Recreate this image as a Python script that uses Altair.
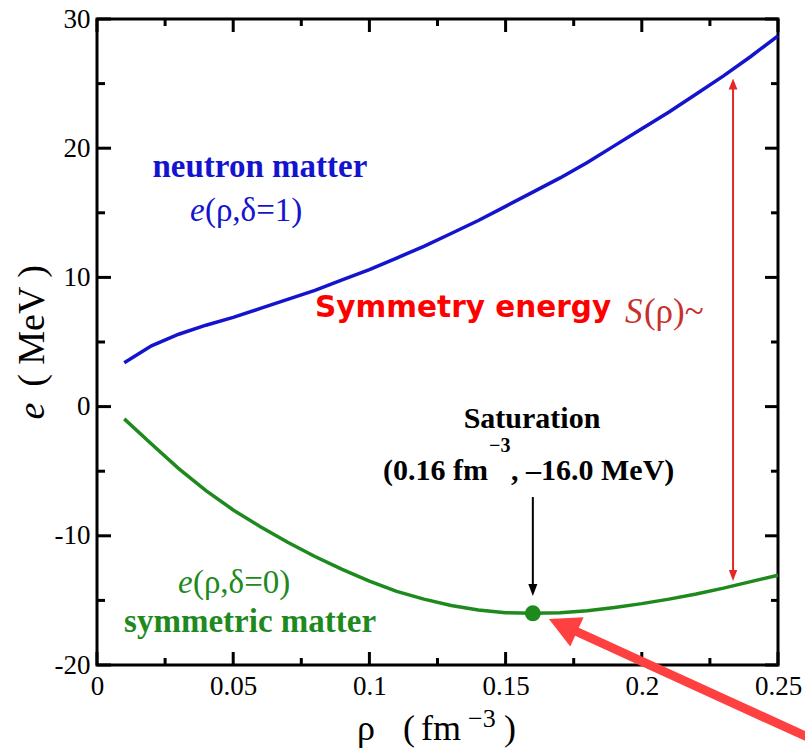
import altair as alt
import pandas as pd

# ---------------- data ----------------
rho = [0.01, 0.02, 0.03, 0.04, 0.05, 0.06, 0.07, 0.08, 0.09, 0.10,
       0.11, 0.12, 0.13, 0.14, 0.15, 0.16, 0.17, 0.18, 0.19, 0.20,
       0.21, 0.22, 0.23, 0.24, 0.25]
e_neutron = [3.4, 4.7, 5.6, 6.3, 6.9, 7.6, 8.3, 9.0, 9.8, 10.6,
             11.5, 12.4, 13.4, 14.4, 15.5, 16.6, 17.7, 18.9, 20.2, 21.5,
             22.8, 24.2, 25.6, 27.1, 28.7]
e_symmetric = [-0.95, -2.9, -4.8, -6.5, -8.0, -9.3, -10.5, -11.6, -12.6, -13.5,
               -14.3, -14.9, -15.4, -15.75, -15.95, -16.0, -15.95, -15.8, -15.55, -15.25,
               -14.9, -14.5, -14.05, -13.55, -13.05]

x_major = [0, 0.05, 0.1, 0.15, 0.2, 0.25]
x_minor = [0.025, 0.075, 0.125, 0.175, 0.225]
y_major = [-20, -10, 0, 10, 20, 30]
y_minor = [-15, -5, 5, 15, 25]

saturation = [0.16, -16.0]
sym_arrow_x = [0.2335]
sym_arrow_y = [-13.5, 25.4]

# ---------------- style ----------------
W, H = 681, 646
SERIF = "Liberation Serif"
SANS = "DejaVu Sans"
BLUE = "#1414cf"
GREEN = "#1e8a1e"
RED = "#ff0000"
DARKRED = "#c8302c"
ARROWRED = "#e42828"
BIGRED = "#fe4040"

xs = alt.Scale(domain=[0, 0.25], nice=False, zero=False)
ys = alt.Scale(domain=[-20, 30], nice=False, zero=False)

x_axis = alt.Axis(title=None, values=x_major, labelExpr="'' + datum.value",
                  ticks=False, domain=False, grid=False, labelFont=SERIF,
                  labelFontSize=27, labelColor="black", labelPadding=8,
                  labelFlush=False, labelOverlap=False)
y_axis = alt.Axis(title=None, values=y_major,
                  labelExpr="datum.value < 0 ? '-' + (-datum.value) : '' + datum.value",
                  ticks=False, domain=False, grid=False, labelFont=SERIF,
                  labelFontSize=27, labelColor="black", labelPadding=7,
                  labelOverlap=False)


def X(field):
    return alt.X(field, scale=xs, axis=x_axis)


def Y(field):
    return alt.Y(field, scale=ys, axis=y_axis)


curves = pd.DataFrame({"rho": rho, "pnm": e_neutron, "snm": e_symmetric})

blue_line = alt.Chart(curves).mark_line(color=BLUE, strokeWidth=3.5).encode(
    x=X("rho:Q"), y=Y("pnm:Q"))
green_line = alt.Chart(curves).mark_line(color=GREEN, strokeWidth=3.5).encode(
    x=X("rho:Q"), y=Y("snm:Q"))


def xticks(vals, y0, y1):
    return alt.Chart(pd.DataFrame({"t": vals})).mark_rule(color="black", strokeWidth=3).encode(
        x=X("t:Q"), y=alt.value(y0), y2=alt.value(y1))


def yticks(vals, x0, x1):
    return alt.Chart(pd.DataFrame({"t": vals})).mark_rule(color="black", strokeWidth=3).encode(
        y=Y("t:Q"), x=alt.value(x0), x2=alt.value(x1))


ticks = [xticks(x_major, H - 13, H), xticks(x_major, 0, 13),
         xticks(x_minor, H - 7, H), xticks(x_minor, 0, 7),
         yticks(y_major, 0, 14), yticks(y_major, W - 13, W),
         yticks(y_minor, 0, 8), yticks(y_minor, W - 7, W)]


def seg(x1, y1, x2, y2, color, width):
    df = pd.DataFrame({"x": [x1], "y": [y1], "x2": [x2], "y2": [y2]})
    return alt.Chart(df).mark_rule(color=color, strokeWidth=width, clip=False).encode(
        x=X("x:Q"), y=Y("y:Q"), x2="x2:Q", y2="y2:Q")


def head(x, y, path, size, color, angle=0):
    df = pd.DataFrame({"x": [x], "y": [y]})
    return alt.Chart(df).mark_point(shape=path, size=size, filled=True, color=color,
                                    opacity=1, angle=angle, strokeWidth=0, clip=False).encode(
        x=X("x:Q"), y=Y("y:Q"))


def label(text, x, y, **kw):
    df = pd.DataFrame({"x": [x], "y": [y], "t": [text]})
    return alt.Chart(df).mark_text(**kw).encode(x=X("x:Q"), y=Y("y:Q"), text="t:N")


def plabel(text, px, py, **kw):
    df = pd.DataFrame({"t": [text]})
    return alt.Chart(df).mark_text(**kw).encode(x=alt.value(px), y=alt.value(py), text="t:N")


DOWN = "M0,0 L-0.38,-1 L0.38,-1 Z"
UP = "M0,0 L-0.4,1 L0.4,1 Z"
LEFTISH = "M0,0 L-1,-0.52 L-1,0.52 Z"

arrows = [
    seg(0.16, -7.0, 0.16, -14.0, "black", 2),
    head(0.16, -14.66, DOWN, 576, "black"),
    seg(sym_arrow_x[0], sym_arrow_y[0] + 0.7, sym_arrow_x[0], sym_arrow_y[1] - 0.7, ARROWRED, 2),
    head(sym_arrow_x[0], sym_arrow_y[1], UP, 484, ARROWRED),
    head(sym_arrow_x[0], sym_arrow_y[0], DOWN, 484, ARROWRED),
]

dot = alt.Chart(pd.DataFrame({"x": [saturation[0]], "y": [saturation[1]]})).mark_point(
    shape="circle", size=256, filled=True, color=GREEN, opacity=1).encode(
    x=X("x:Q"), y=Y("y:Q"))

big_arrow = [
    seg(0.1726, -17.08, 0.2728, -26.73, BIGRED, 9),
    head(0.1659, -16.44, LEFTISH, 3800, BIGRED, angle=204.65),
]

common = dict(font=SERIF, align="left", baseline="alphabetic")
texts = [
    label("neutron matter", 0.0598, 17.79, font=SERIF, fontSize=33, fontWeight="bold",
          color=BLUE, align="center", baseline="alphabetic"),
    label("e", 0.0341, 14.36, fontSize=33, fontStyle="italic", color=BLUE, **common),
    label("(ρ,δ=1)", 0.0341, 14.36, fontSize=33, dx=15, color=BLUE, **common),
    label("Symmetry energy", 0.1344, 6.93, font=SANS, fontSize=29.5, fontWeight="bold",
          color=RED, align="center", baseline="alphabetic"),
    label("S", 0.1938, 6.45, fontSize=35, fontStyle="italic", color=DARKRED, **common),
    label("(ρ)~", 0.1938, 6.45, fontSize=35, dx=19, color=DARKRED, **common),
    label("Saturation", 0.1597, -1.65, font=SERIF, fontSize=30, fontWeight="bold",
          color="black", align="center", baseline="alphabetic"),
    label("(0.16 fm", 0.1050, -5.68, fontSize=30, fontWeight="bold", color="black", **common),
    label("−3", 0.1050, -5.68, fontSize=20, fontWeight="bold", dx=106, dy=-28,
          color="black", **common),
    label(", –16.0 MeV)", 0.1050, -5.68, fontSize=30, fontWeight="bold", dx=128,
          color="black", **common),
    label("e", 0.0297, -14.4, fontSize=33, fontStyle="italic", color=GREEN, **common),
    label("(ρ,δ=0)", 0.0297, -14.4, fontSize=33, dx=15, color=GREEN, **common),
    label("symmetric matter", 0.0562, -17.45, font=SERIF, fontSize=33, fontWeight="bold",
          color=GREEN, align="center", baseline="alphabetic"),
]

titles = [
    plabel("e", -53, 392, font=SERIF, fontSize=38, fontStyle="italic", angle=270,
           align="center", baseline="alphabetic", color="black"),
    plabel("( MeV )", -53, 307, font=SERIF, fontSize=38, angle=270,
           align="center", baseline="alphabetic", color="black"),
    plabel("ρ", 260, 721, fontSize=36, color="black", **common),
    plabel("(", 306, 721, fontSize=36, color="black", **common),
    plabel("fm", 324, 721, fontSize=36, color="black", **common),
    plabel("−3", 371, 708, fontSize=26, color="black", **common),
    plabel(")", 407, 721, fontSize=36, color="black", **common),
]

chart = alt.layer(
    blue_line, green_line, *ticks, *arrows, dot, *texts, *titles, *big_arrow
).properties(
    width=W, height=H,
    padding={"left": 97, "top": 19, "right": 27, "bottom": 84},
    autosize=alt.AutoSizeParams(type="none"),
    background="white",
).configure_view(stroke="black", strokeWidth=3)

chart.save("out.html", embed_options={"renderer": "svg", "actions": False})
